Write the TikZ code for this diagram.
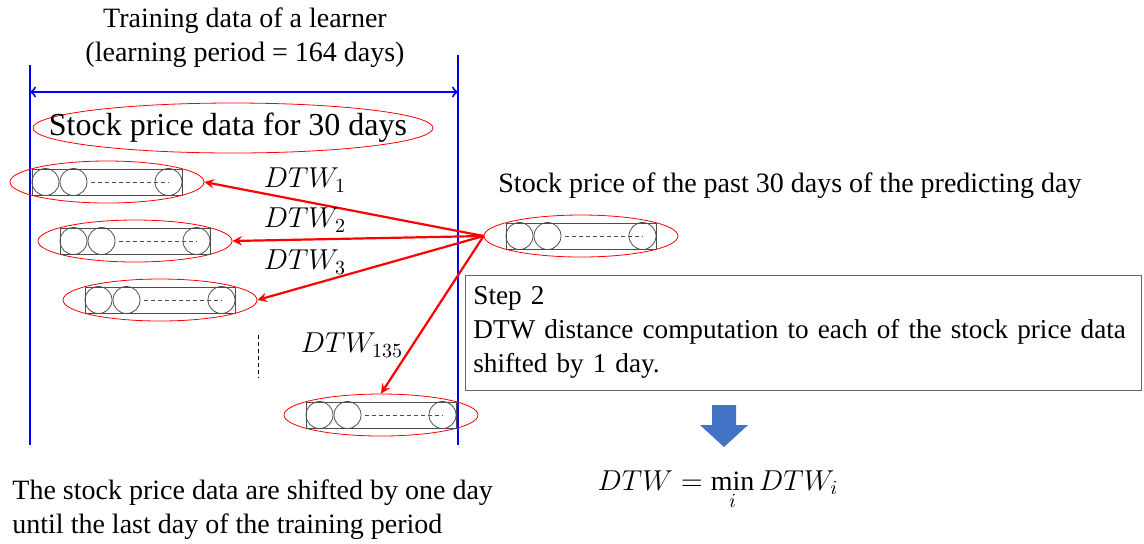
\documentclass[tikz,border=0pt]{standalone}
\usepackage{fontspec}
\setmainfont{Liberation Serif}
\usepackage{tikz}
\usetikzlibrary{arrows,shapes}
\definecolor{blockblue}{HTML}{4472C4}

\tikzset{
    txt/.style={font=\rmfamily\fontsize{14}{17}\selectfont, inner sep=0pt},
    hull/.style={draw=red, ellipse, minimum width=97pt, minimum height=21pt, inner sep=0pt},
    strip/.style={draw=black!70, rectangle, minimum width=75pt, minimum height=13pt, inner sep=0pt},
    cell/.style={draw=black!70, circle, minimum size=13.5pt, inner sep=0pt},
    bound/.style={blue, line width=1pt},
    link/.style={red, line width=1.1pt, -stealth}
}

\begin{document}
\begin{tikzpicture}[x=0.5pt, y=-0.5pt]
    \useasboundingbox (0,0) rectangle (1144,543);

    \node[txt, align=center] (title) at (245,38) {Training data of a learner\\(learning period = 164 days)};
    \coordinate (ltop) at (30,65);
    \coordinate (lbot) at (30,445);
    \coordinate (rtop) at (458,55);
    \coordinate (rbot) at (458,445);
    \draw[bound] (ltop) -- (lbot);
    \draw[bound] (rtop) -- (rbot);
    \coordinate (spanl) at (30,92);
    \coordinate (spanr) at (458,92);
    \draw[bound,<->] (spanl) -- (spanr);

    \node[draw=red, ellipse, minimum width=200pt, minimum height=25pt, inner sep=0pt] (window) at (233,128) {};
    \node[txt, font=\rmfamily\fontsize{16}{18}\selectfont] (windowtxt) at (228,128) {Stock price data for 30 days};

    \foreach \n/\x/\y in {row1/107/182, row2/135/241, row3/160/300, row4/381/415, query/581/236} {
        \node[hull] (\n) at (\x,\y) {};
        \node[strip] (\n-s) at (\x,\y) {};
        \node[cell] (\n-a) at ({\x-61.5},\y) {};
        \node[cell] (\n-b) at ({\x-33.5},\y) {};
        \node[cell] (\n-c) at ({\x+61.5},\y) {};
        \draw[black!70, dash pattern=on 2pt off 1.5pt, shorten <=2pt] (\n-b.east) -- (\n-c.center);
    }

    \draw[link] (query.west) -- (row1.east);
    \draw[link] (query.west) -- (row2.east);
    \draw[link] (query.west) -- (row3.east);
    \draw[link] (query.west) -- (row4.north);

    \node[txt] (d1) at (305,180) {$DTW_1$};
    \node[txt] (d2) at (305,220) {$DTW_2$};
    \node[txt] (d3) at (305,262) {$DTW_3$};
    \node[txt] (d135) at (352,345) {$DTW_{135}$};

    \coordinate (dots1) at (258,335);
    \coordinate (dots2) at (258,378);
    \draw[dash pattern=on 2pt off 1.5pt] (dots1) -- (dots2);

    \node[txt] (qlabel) at (790,186) {Stock price of the past 30 days of the predicting day};

    \node[txt, font=\rmfamily\fontsize{13.6}{17}\selectfont, draw=black!60, anchor=north west, text width=330pt, minimum height=57.5pt, inner xsep=4pt, align=left] (step) at (465,275) {Step 2\\DTW distance computation to each of the stock price data\\shifted by 1 day.};

    \fill[blockblue] (712,405) -- (736,405) -- (736,425) -- (748,425) -- (724,447) -- (700,425) -- (712,425) -- cycle;

    \node[txt] (result) at (718,490) {$DTW = \min\limits_i DTW_i$};

    \node[txt, anchor=west, align=left] (note) at (12,510) {The stock price data are shifted by one day\\until the last day of the training period};
\end{tikzpicture}
\end{document}
